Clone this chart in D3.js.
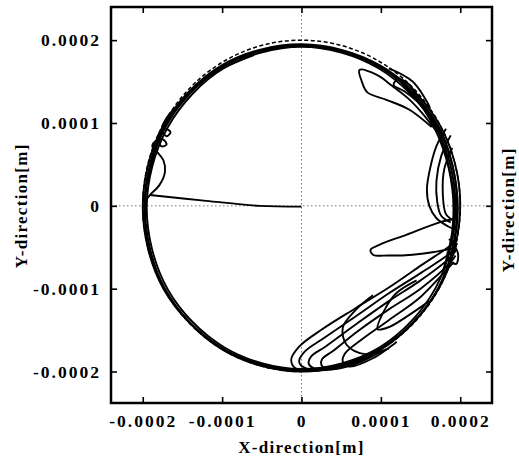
<!DOCTYPE html>
<html lang="en">
<head>
<meta charset="utf-8">
<script src="https://d3js.org/d3.v7.min.js"></script>
<style>
    body { margin: 0; background: #fff; }
    .orbit { fill: none; stroke: #000; stroke-width: 1.9px; stroke-linejoin: round; }
    .zero { stroke: #777; stroke-width: 1px; stroke-dasharray: 1.5,2.5; }
    .clearance { fill: none; stroke: #000; stroke-width: 1.5px; stroke-dasharray: 4,2.5; }
    .tick-label { font-family: "Liberation Serif", serif; font-weight: bold; font-size: 17.5px; letter-spacing: 2px; fill: #000; }
    .axis-title { font-family: "Liberation Serif", serif; font-weight: bold; font-size: 17px; letter-spacing: 1.3px; fill: #000; }
</style>
<title>Orbit</title>
</head>
<body>
<div id="chart"></div>
<script>
// all positions in units of 1e-4 m
var tickValues = [-2, -1, 0, 1, 2];
var tickLabels = ["-0.0002", "-0.0001", "0", "0.0001", "0.0002"];
var clearance = 2.0;

// whirl passes round the clearance circle (closed)
var orbitA = [[1.97,-0.03],[1.71,0.96],[0.99,1.68],[0,1.94],[-0.99,1.68],[-1.71,0.96],[-1.97,-0.03],[-1.71,-1.02],[-0.99,-1.74],[0,-2.0],[0.99,-1.74],[1.71,-1.02]];
var orbitB = [[1.94,0.01],[1.69,0.95],[0.97,1.66],[0,1.92],[-0.98,1.66],[-1.69,0.94],[-1.95,-0.02],[-1.69,-1.0],[-0.97,-1.71],[0,-1.97],[0.98,-1.71],[1.69,-0.99]];
var orbitC = [[2.0,0.02],[1.74,0.98],[1.0,1.69],[0,1.95],[-1.0,1.7],[-1.74,0.97],[-2.0,-0.01],[-1.74,-1.0],[-1.0,-1.72],[0,-1.98],[1.0,-1.72],[1.74,-0.98]];
var orbitD = [[1.96,0.0],[1.72,0.97],[0.99,1.67],[0,1.93],[-0.99,1.69],[-1.72,0.97],[-1.98,-0.02],[-1.72,-1.01],[-0.98,-1.73],[0,-1.99],[0.99,-1.73],[1.72,-1.0]];

// open pieces of the trajectory
var startLine = [[0,-0.01],[-0.53,0.0],[-1.2,0.06],[-1.91,0.13]];
var leftCurl = [[-1.98,0.04],[-1.91,0.13],[-1.79,0.25],[-1.72,0.41],[-1.74,0.55],[-1.81,0.64],[-1.88,0.72],[-1.82,0.79],[-1.74,0.8],[-1.7,0.74],[-1.77,0.72],[-1.8,0.86],[-1.72,0.93],[-1.65,0.89],[-1.7,0.84],[-1.76,0.93],[-1.7,1.06],[-1.6,1.18]];
var leftBand = [[-1.93,0.3],[-1.8,0.78],[-1.52,1.24],[-1.12,1.59],[-0.6,1.82]];
var topRightLoop = [[1.64,0.95],[1.36,1.16],[1.07,1.28],[0.83,1.37],[0.76,1.5],[0.73,1.64],[0.95,1.58],[1.14,1.45],[1.34,1.3],[1.52,1.12],[1.7,0.9]];
var topRightCurl = [[1.76,0.9],[1.5,1.22],[1.3,1.38],[1.16,1.46],[1.22,1.53],[1.35,1.47],[1.45,1.35],[1.62,1.18],[1.4,1.5],[1.1,1.66]];
var rightBand1 = [[1.2,1.55],[1.55,1.15],[1.78,0.7],[1.9,0.2],[1.9,-0.3],[1.78,-0.8]];
var rightBand2 = [[1.4,1.38],[1.7,0.95],[1.85,0.5],[1.93,0.0],[1.89,-0.45]];
var rightLens1 = [[1.82,0.93],[1.7,0.72],[1.62,0.45],[1.58,0.2],[1.61,0.0],[1.7,-0.15],[1.85,-0.25],[1.97,-0.3]];
var rightLens2 = [[1.88,0.85],[1.76,0.6],[1.7,0.3],[1.71,0.05],[1.76,-0.12],[1.88,-0.2]];
var rightLens3 = [[1.9,0.7],[1.8,0.45],[1.78,0.15],[1.82,-0.1],[1.92,-0.18]];
var teardrop = [[1.97,-0.15],[1.74,-0.2],[1.32,-0.35],[0.98,-0.47],[0.87,-0.53],[0.9,-0.59],[1.1,-0.6],[1.4,-0.59],[1.65,-0.56],[1.92,-0.51]];
var rightBump = [[1.86,-0.4],[1.97,-0.57],[1.95,-0.7],[1.86,-0.66],[1.84,-0.55]];
var lowLoop1 = [[1.96,-0.4],[1.86,-0.49],[1.52,-0.71],[1.11,-0.98],[0.69,-1.23],[0.26,-1.49],[-0.03,-1.7],[-0.13,-1.86],[-0.06,-1.97],[0.3,-1.98],[0.7,-1.87]];
var lowLoop2 = [[1.96,-0.45],[1.92,-0.53],[1.52,-0.8],[1.11,-1.05],[0.69,-1.33],[0.26,-1.61],[0.04,-1.76],[-0.03,-1.88],[0.05,-1.96],[0.4,-1.97],[0.8,-1.84]];
var lowLoop3 = [[1.95,-0.52],[1.9,-0.6],[1.5,-0.9],[1.1,-1.15],[0.7,-1.42],[0.3,-1.7],[0.12,-1.82],[0.09,-1.9],[0.15,-1.96],[0.5,-1.95],[0.9,-1.8]];
var lowLoop4 = [[1.94,-0.6],[1.88,-0.68],[1.5,-1.0],[1.1,-1.25],[0.7,-1.52],[0.4,-1.75],[0.26,-1.85],[0.25,-1.92],[0.32,-1.97],[0.65,-1.92],[1.0,-1.76]];
var lowLoop5 = [[1.92,-0.68],[1.85,-0.75],[1.5,-1.1],[1.1,-1.38],[0.75,-1.62],[0.55,-1.78],[0.52,-1.88],[0.6,-1.94],[0.9,-1.84],[1.2,-1.64]];
var cuspA = [[0.9,-1.08],[0.69,-1.25],[0.52,-1.47],[0.57,-1.68],[0.8,-1.79],[1.1,-1.72]];
var cuspB = [[1.45,-0.9],[1.2,-1.05],[1.05,-1.25],[0.96,-1.49],[1.11,-1.46],[1.32,-1.34],[1.61,-1.15]];

var closedOrbits = [orbitA, orbitB, orbitC, orbitD];
var openPieces = [startLine, leftCurl, leftBand, topRightLoop, topRightCurl, rightBand1, rightBand2,
    rightLens1, rightLens2, rightLens3, teardrop, rightBump,
    lowLoop1, lowLoop2, lowLoop3, lowLoop4, lowLoop5, cuspA, cuspB];

var margin = {top: 7, right: 27, bottom: 61, left: 111},
    width = 519 - margin.left - margin.right,
    height = 464 - margin.top - margin.bottom;

var svg = d3.select("#chart")
    .append("svg")
        .attr("width", width + margin.left + margin.right)
        .attr("height", height + margin.top + margin.bottom)
    .append("g")
        .attr("transform", "translate(" + margin.left + "," + margin.top + ")");

var x = d3.scaleLinear().domain([-2.4, 2.4]).range([0, width]);
var y = d3.scaleLinear().domain([-2.38, 2.40]).range([height, 0]);

// dotted zero lines
svg.append("line").attr("class", "zero")
    .attr("x1", 0).attr("x2", width).attr("y1", y(0)).attr("y2", y(0));
svg.append("line").attr("class", "zero")
    .attr("x1", x(0)).attr("x2", x(0)).attr("y1", 0).attr("y2", height);

// clearance circle
svg.append("ellipse").attr("class", "clearance")
    .attr("cx", x(0)).attr("cy", y(0))
    .attr("rx", x(clearance) - x(0))
    .attr("ry", y(0) - y(clearance));

var openLine = d3.line()
    .x(function(d) { return x(d[0]); })
    .y(function(d) { return y(d[1]); })
    .curve(d3.curveCatmullRom.alpha(0.5));

var closedLine = d3.line()
    .x(function(d) { return x(d[0]); })
    .y(function(d) { return y(d[1]); })
    .curve(d3.curveCatmullRomClosed.alpha(0.5));

svg.selectAll(".closed").data(closedOrbits).enter()
    .append("path").attr("class", "orbit closed").attr("d", closedLine);

svg.selectAll(".open").data(openPieces).enter()
    .append("path").attr("class", "orbit open").attr("d", openLine);

// axes, ticks pointing inwards on all four sides
function fmt(d) { return tickLabels[tickValues.indexOf(d)]; }

var gx = svg.append("g")
    .attr("transform", "translate(0," + height + ")")
    .call(d3.axisBottom(x).tickValues(tickValues).tickFormat(fmt).tickSize(-6).tickSizeOuter(0).tickPadding(12));
var gy = svg.append("g")
    .call(d3.axisLeft(y).tickValues(tickValues).tickFormat(fmt).tickSize(-6).tickSizeOuter(0).tickPadding(10));
svg.append("g")
    .call(d3.axisTop(x).tickValues(tickValues).tickFormat("").tickSize(-6).tickSizeOuter(0));
svg.append("g")
    .attr("transform", "translate(" + width + ",0)")
    .call(d3.axisRight(y).tickValues(tickValues).tickFormat("").tickSize(-6).tickSizeOuter(0));

svg.selectAll(".domain").remove();
svg.selectAll(".tick line").attr("stroke", "#000").attr("stroke-width", 1.6);
gx.selectAll("text").attr("class", "tick-label");
gy.selectAll("text").attr("class", "tick-label");

svg.append("rect")
    .attr("width", width).attr("height", height)
    .attr("fill", "none").attr("stroke", "#000").attr("stroke-width", 2.5);

// axis titles
svg.append("text").attr("class", "axis-title")
    .attr("text-anchor", "middle")
    .attr("x", x(0)).attr("y", height + 50)
    .text("X-direction[m]");
svg.append("text").attr("class", "axis-title")
    .attr("text-anchor", "middle")
    .attr("transform", "translate(" + (27 - margin.left) + "," + y(0) + ") rotate(-90)")
    .text("Y-direction[m]");
svg.append("text").attr("class", "axis-title")
    .attr("text-anchor", "middle")
    .attr("transform", "translate(" + (width + 22) + "," + (y(0) + 4) + ") rotate(-90)")
    .text("Y-direction[m]");
</script>
</body>
</html>
